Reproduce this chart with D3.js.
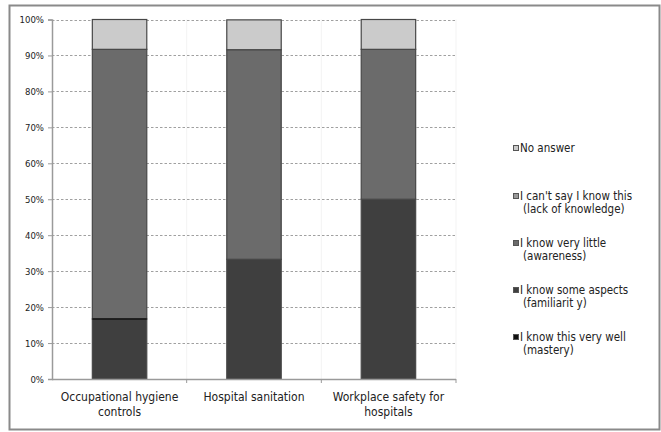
<!DOCTYPE html>
<html>
<head>
<meta charset="utf-8">
<script src="https://cdn.jsdelivr.net/npm/d3@7"></script>
<style>
  html, body { margin: 0; padding: 0; background: #fff; }
  svg { display: block; font-family: "DejaVu Sans Condensed", "DejaVu Sans", Verdana, sans-serif; }
</style>
</head>
<body>
<svg id="chart" width="661" height="432"></svg>
<script>
// Topics surveyed
const categories = [
  ["Occupational hygiene", "controls"],
  ["Hospital sanitation"],
  ["Workplace safety  for", "hospitals"]
];

// Share of respondents per knowledge level (fractions, bottom to top of each stack)
const mastery       = [0, 0, 0];
const familiarity   = [0.167, 0.333, 0.5];
const awareness     = [0.75, 0.583, 0.417];
const lackKnowledge = [0, 0, 0];
const noAnswer      = [0.083, 0.083, 0.083];

const seriesNames = [
  ["I know this very well", "(mastery)"],
  ["I know some aspects", "(familiarit y)"],
  ["I know very little", "(awareness)"],
  ["I can't say I know this", "(lack of knowledge)"],
  ["No answer"]
];
const seriesColors = ["#111111", "#3f3f3f", "#6b6b6b", "#9a9a9a", "#cbcbcb"];
const yTicks = [0, 0.1, 0.2, 0.3, 0.4, 0.5, 0.6, 0.7, 0.8, 0.9, 1.0];

const seriesValues = [mastery, familiarity, awareness, lackKnowledge, noAnswer];
const rows = categories.map((c, i) => {
  const r = { key: i };
  seriesValues.forEach((s, j) => { r["s" + j] = s[i]; });
  return r;
});
const keys = seriesValues.map((_, j) => "s" + j);
const stacked = d3.stack().keys(keys)(rows);

const svg = d3.select("#chart");

// outer frame
svg.append("rect")
  .attr("x", 9.5).attr("y", 5.5).attr("width", 650).attr("height", 424)
  .attr("fill", "#fff").attr("stroke", "#8a8a8a").attr("stroke-width", 2);

const plot = { left: 52, right: 456, top: 19.5, bottom: 379 };

const x = d3.scaleBand().domain(d3.range(categories.length))
  .range([plot.left, plot.right]).paddingInner(0.595).paddingOuter(0.3);
const band = (plot.right - plot.left) / categories.length;
const y = d3.scaleLinear().domain([0, 1]).range([plot.bottom, plot.top]);

// faint vertical separators between categories
svg.append("g").selectAll("line")
  .data(d3.range(1, categories.length + 1))
  .join("line")
  .attr("x1", d => plot.left + band * d).attr("x2", d => plot.left + band * d)
  .attr("y1", plot.top).attr("y2", plot.bottom)
  .attr("stroke", "#f3f3f3").attr("stroke-width", 1);

// dashed horizontal gridlines
svg.append("g").selectAll("line")
  .data(yTicks.filter(t => t > 0))
  .join("line")
  .attr("x1", plot.left).attr("x2", plot.right)
  .attr("y1", d => Math.round(y(d)) + 0.5).attr("y2", d => Math.round(y(d)) + 0.5)
  .attr("stroke", "#a0a0a0").attr("stroke-width", 1)
  .attr("stroke-dasharray", "2.5,2");

// stacked bars
svg.append("g").selectAll("g")
  .data(stacked)
  .join("g")
  .attr("fill", (d, i) => seriesColors[i])
  .selectAll("rect")
  .data(d => d)
  .join("rect")
  .attr("x", (d, i) => x(i))
  .attr("width", x.bandwidth())
  .attr("y", d => y(d[1]))
  .attr("height", d => y(d[0]) - y(d[1]))
  .attr("stroke", d => (d[1] - d[0]) > 0 ? "#474747" : "none")
  .attr("stroke-width", 1.2);

// zero-height mastery segment marks the base boundary in the first stack
svg.append("g").selectAll("line")
  .data(stacked[1])
  .join("line")
  .filter((d, i) => i === 0)
  .attr("x1", (d, i) => x(0)).attr("x2", x(0) + x.bandwidth())
  .attr("y1", d => y(d[1])).attr("y2", d => y(d[1]))
  .attr("stroke", "#111").attr("stroke-width", 1.5);

// y axis
const yAxis = d3.axisLeft(y).tickValues(yTicks)
  .tickFormat(d3.format(".0%")).tickSize(4).tickPadding(4);
const gy = svg.append("g").attr("transform", `translate(${plot.left},0)`).call(yAxis);
gy.select(".domain").attr("stroke", "#9a9a9a").attr("stroke-width", 1.5);
gy.selectAll(".tick line").attr("stroke", "#9a9a9a");
gy.selectAll(".tick text").attr("font-size", 9.5).attr("fill", "#222")
  .attr("font-family", "\"DejaVu Sans Condensed\", \"DejaVu Sans\", sans-serif");

// x axis
const gx = svg.append("g").attr("transform", `translate(0,${plot.bottom})`);
gx.append("line").attr("x1", plot.left).attr("x2", plot.right)
  .attr("y1", 0.5).attr("y2", 0.5).attr("stroke", "#9a9a9a").attr("stroke-width", 1.5);
gx.selectAll("line.tk").data(d3.range(1, categories.length + 1)).join("line")
  .attr("class", "tk")
  .attr("x1", d => plot.left + band * d).attr("x2", d => plot.left + band * d)
  .attr("y1", 0).attr("y2", 4).attr("stroke", "#9a9a9a");

// category labels
svg.append("g").selectAll("text")
  .data(categories)
  .join("text")
  .attr("text-anchor", "middle")
  .attr("font-size", 12).attr("fill", "#222")
  .attr("x", (d, i) => x(i) + x.bandwidth() / 2)
  .attr("y", 401)
  .selectAll("tspan")
  .data(d => d)
  .join("tspan")
  .attr("x", function () { return d3.select(this.parentNode).attr("x"); })
  .attr("dy", (d, i) => i === 0 ? 0 : 15)
  .text(d => d);

// legend, listed top series first
const legendY = [152, 200, 247, 294, 341];
const legendOrder = [4, 3, 2, 1, 0];
const lg = svg.append("g").selectAll("g")
  .data(legendOrder)
  .join("g")
  .attr("transform", (d, i) => `translate(512,${legendY[i]})`);
lg.append("rect")
  .attr("x", 1.5).attr("y", -6.5).attr("width", 5).attr("height", 5)
  .attr("fill", d => seriesColors[d]).attr("stroke", "#555").attr("stroke-width", 1);
lg.append("text")
  .attr("font-size", 11.5).attr("fill", "#222")
  .selectAll("tspan")
  .data(d => seriesNames[d])
  .join("tspan")
  .attr("x", (d, i) => i === 0 ? 8 : 11)
  .attr("y", (d, i) => i * 12.5)
  .text(d => d);
</script>
</body>
</html>
